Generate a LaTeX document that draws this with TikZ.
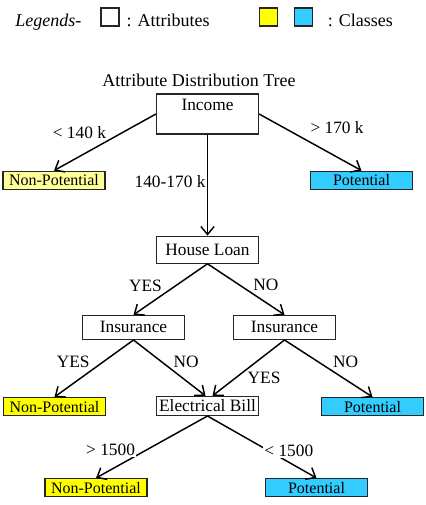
\documentclass[tikz,border=0pt]{standalone}
\usepackage{fontspec}
\setmainfont{Liberation Serif}
\usepackage{xcolor}
\usepackage{tikz}
\usetikzlibrary{arrows.meta, positioning}
\definecolor{paleyellow}{RGB}{255,255,153}
\definecolor{classyellow}{RGB}{255,255,0}
\definecolor{classblue}{RGB}{51,204,255}

\begin{document}
\begin{tikzpicture}[
    every node/.style={font=\fontsize{13}{15}\selectfont},
    attr/.style={rectangle, draw=black!85, line width=0.9pt, fill=white,
                 minimum width=76.5pt, inner sep=0pt},
    leaf/.style={rectangle, draw=black!85, line width=0.9pt, minimum width=76.5pt,
                 minimum height=13.5pt, inner sep=0pt, font=\fontsize{12}{14}\selectfont},
    nonpot/.style={leaf, fill=classyellow},
    pot/.style={leaf, fill=classblue},
    keybox/.style={rectangle, draw=black!85, line width=0.9pt, minimum size=13.5pt, inner sep=0pt},
    keytext/.style={inner sep=0pt, font=\fontsize{13.5}{15}\selectfont},
    arrow/.style={-{Straight Barb[length=6pt, width=10pt]}, line width=1.1pt},
    label_e/.style={fill=white, inner sep=1pt},
]
\useasboundingbox (-155.625pt,85.5pt) rectangle (163.125pt,-293.25pt);

% Legend
\node[keybox] (attrkey) at (-73.125pt,72.75pt) {};
\node[keytext, font=\fontsize{13.5}{15}\selectfont\itshape, anchor=base east] (legtitle) at ([xshift=-14pt]attrkey.south west) {Legends-};
\node[keytext, anchor=base west] (attrtext) at ([xshift=5pt]attrkey.south east) {: Attributes};
\node[keybox, fill=classyellow, right=104.25pt of attrkey] (ylwkey) {};
\node[keybox, fill=classblue, right=12pt of ylwkey] (bluekey) {};
\node[keytext, anchor=base west] (classtext) at ([xshift=11pt]bluekey.south east) {: Classes};

% Root
\node[attr, minimum height=30pt, text height=12.75pt, text depth=17.25pt] (income) at (0,0) {Income};
\node[keytext, inner sep=0pt, above=5pt of income, xshift=-6.4pt] (title) {Attribute Distribution Tree};
\node[leaf, fill=paleyellow, below=27pt of income, xshift=-115.125pt] (np1) {Non-Potential};
\node[pot, below=27pt of income, xshift=115.5pt] (p1) {Potential};

% Level 2
\node[attr, minimum height=20.25pt, below=75.75pt of income] (hl) {House Loan};

% Level 3
\node[attr, minimum height=18pt, below=38.25pt of hl, xshift=-55.5pt] (insl) {Insurance};
\node[attr, minimum height=18pt, below=38.25pt of hl, xshift=57.75pt] (insr) {Insurance};

% Level 4
\node[attr, minimum height=14.25pt, below=99pt of hl] (eb) {Electrical Bill};
\node[nonpot, below=42.75pt of insl, xshift=-59.25pt] (np2) {Non-Potential};
\node[pot, below=42.75pt of insr, xshift=66pt] (p2) {Potential};

% Level 5
\node[nonpot, below=46.5pt of eb, xshift=-83.625pt] (np3) {Non-Potential};
\node[pot, below=46.5pt of eb, xshift=81.75pt] (p3) {Potential};

% Arrows
\draw[arrow] (income.west) -- (np1.north) node[pos=0.47, above left, label_e] {< 140 k};
\draw[arrow] (income.east) -- (p1.north) node[pos=0.45, above right=3.5pt, label_e] {> 170 k};
\draw[arrow] (income.south) -- (hl.north) node[pos=0.47, left, label_e] {140-170 k};
\draw[arrow] (hl.south) -- (insl.north) node[pos=0.59, above left, label_e] {YES};
\draw[arrow] (hl.south) -- (insr.north) node[pos=0.57, above right, label_e] {NO};
\draw[arrow] (insl.south) -- (np2.north) node[pos=0.53, above left, label_e] {YES};
\draw[arrow] (insl.south) -- ([xshift=-1.5pt]eb.north) node[pos=0.53, above right, label_e] {NO};
\draw[arrow] (insr.south) -- ([xshift=3.75pt]eb.north) node[pos=0.54, below right, label_e] {YES};
\draw[arrow] (insr.south) -- (p2.north) node[pos=0.53, above right, label_e] {NO};
\draw[arrow] (eb.south) -- (np3.north) node[pos=0.68, above left, xshift=4pt, label_e] {> 1500};
\draw[arrow] (eb.south) -- (p3.north) node[pos=0.565, right=-5pt, label_e] {< 1500};

\end{tikzpicture}
\end{document}
